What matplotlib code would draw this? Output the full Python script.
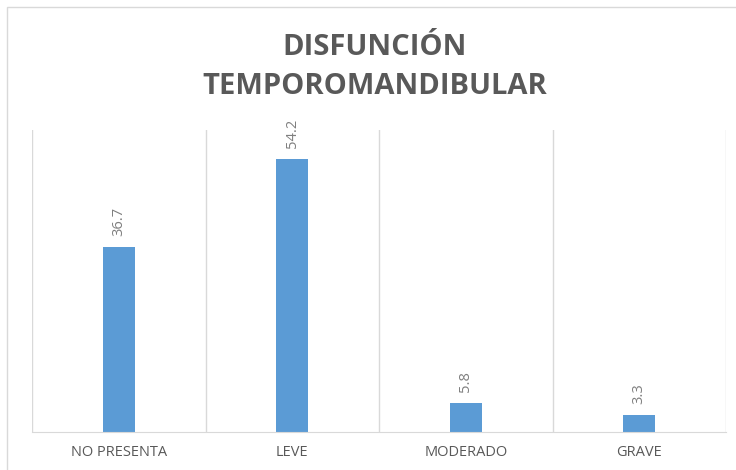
import matplotlib.pyplot as plt
from matplotlib.patches import Rectangle

categories = ['NO PRESENTA', 'LEVE', 'MODERADO', 'GRAVE']
values = [36.7, 54.2, 5.8, 3.3]
title = 'DISFUNCIÓN\nTEMPOROMANDIBULAR'

W, H = 736, 470
fig = plt.figure(figsize=(W / 100, H / 100), dpi=100)
fig.patches.append(Rectangle((7 / W, -0.1), 1.2, 1.1 - 7 / H, transform=fig.transFigure,
                             fill=False, edgecolor='#d9d9d9', linewidth=1))
ax = fig.add_axes([32 / W, 1 - 432 / H, (726 - 32) / W, (432 - 130) / H])

x = list(range(len(categories)))
bars = ax.bar(x, values, width=0.185, color='#5b9bd5')
ax.set_xlim(-0.5, len(categories) - 0.5)
ax.set_ylim(0, 60)

for b, v in zip(bars, values):
    ax.annotate(f'{v}', (b.get_x() + b.get_width() / 2, v), xytext=(0, 8),
                textcoords='offset points', rotation=90, ha='center', va='bottom',
                fontsize=10.5, color='#7f7f7f', family='Open Sans')

# category separators
for xi in [i - 0.5 for i in range(len(categories) + 1)]:
    ax.axvline(xi, color='#d9d9d9', linewidth=1)

for s in ['top', 'right', 'left']:
    ax.spines[s].set_visible(False)
ax.spines['bottom'].set_color('#d9d9d9')
ax.set_yticks([])
ax.set_xticks(x)
ax.set_xticklabels(categories, fontsize=10.5, color='#595959', family='Open Sans')
ax.tick_params(axis='x', length=0, pad=9)

fig.text(375 / W, 1 - 67 / H, title, ha='center', va='center', fontsize=21,
         fontweight='bold', color='#595959', family='Open Sans', linespacing=1.45)

fig.savefig('out.png', dpi=100, facecolor='white')
